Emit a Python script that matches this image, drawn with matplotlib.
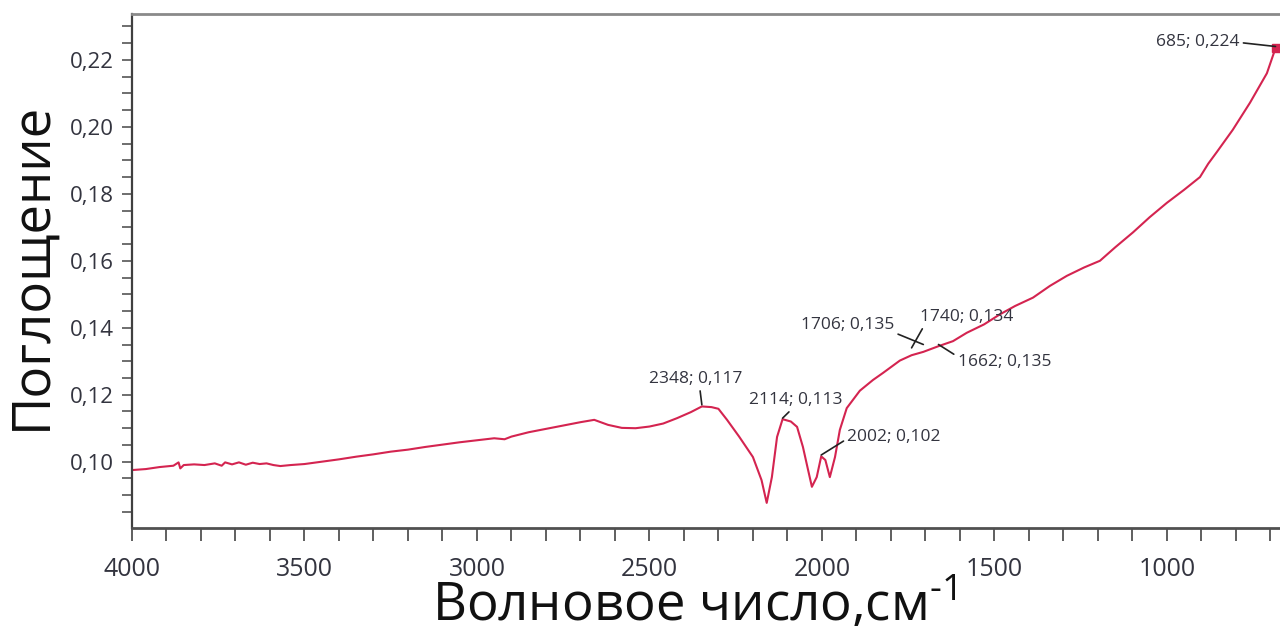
"""
plot.py — ИК-спектр поглощения (4000–685 см-1) с подписями пиков.
"""
import matplotlib
matplotlib.use('Agg')
import matplotlib.pyplot as plt
from matplotlib.ticker import MultipleLocator, FuncFormatter

# ─────────────────────────────────────────────────────────────────────────────
# данные
# ─────────────────────────────────────────────────────────────────────────────

wavenumber = [
    4000, 3960, 3920, 3880, 3865, 3860, 3850, 3820, 3790, 3760,
    3740, 3730, 3710, 3690, 3670, 3650, 3630, 3610, 3590, 3570,
    3540, 3500, 3450, 3400, 3350, 3300, 3250, 3200, 3150, 3100,
    3050, 3000, 2950, 2920, 2900, 2850, 2800, 2750, 2700, 2660,
    2620, 2580, 2540, 2500, 2460, 2420, 2380, 2348, 2320, 2300,
    2275, 2240, 2200, 2175, 2160, 2145, 2130, 2114, 2090, 2072,
    2055, 2040, 2029, 2015, 2002, 1990, 1977, 1962, 1948, 1928,
    1890, 1852, 1823, 1774, 1740, 1706, 1662, 1620, 1580, 1530,
    1484, 1440, 1388, 1339, 1290, 1240, 1194, 1150, 1098, 1050,
    1000, 950, 904, 880, 855, 809, 759, 710, 685,
]
absorbance = [
    0.0975, 0.0978, 0.0984, 0.0988, 0.0998, 0.0980, 0.0990, 0.0992, 0.0990, 0.0995,
    0.0988, 0.0998, 0.0992, 0.0998, 0.0991, 0.0997, 0.0993, 0.0995, 0.0990, 0.0987,
    0.0990, 0.0993, 0.1000, 0.1007, 0.1015, 0.1022, 0.1030, 0.1036, 0.1044, 0.1051,
    0.1058, 0.1064, 0.1070, 0.1067, 0.1075, 0.1088, 0.1098, 0.1108, 0.1118, 0.1125,
    0.1110, 0.1101, 0.1100, 0.1105, 0.1114, 0.1130, 0.1148, 0.1165, 0.1163, 0.1158,
    0.1125, 0.1075, 0.1014, 0.0945, 0.0877, 0.0954, 0.1074, 0.1127, 0.1120, 0.1104,
    0.1044, 0.0975, 0.0925, 0.0954, 0.1016, 0.1005, 0.0954, 0.1014, 0.1095, 0.1160,
    0.1212, 0.1244, 0.1265, 0.1302, 0.1318, 0.1328, 0.1345, 0.1360, 0.1385, 0.1410,
    0.1440, 0.1465, 0.1490, 0.1525, 0.1555, 0.1580, 0.1600, 0.1640, 0.1685, 0.1730,
    0.1773, 0.1812, 0.1850, 0.1890, 0.1925, 0.1991, 0.2072, 0.2160, 0.2235,
]

# подписанные пики
peak_wn  = [2348, 2114, 2002, 1706, 1740, 1662, 685]
peak_abs = [0.117, 0.113, 0.102, 0.135, 0.134, 0.135, 0.224]

# ─────────────────────────────────────────────────────────────────────────────
# оформление
# ─────────────────────────────────────────────────────────────────────────────

LINE_COLOR = '#d42450'
TEXT_COLOR = '#33343f'
FONT = ['Open Sans', 'DejaVu Sans']

# смещение центра подписи (px) и точка выхода выноски на рамке текста
LABEL_STYLE = [
    dict(off=(-6, 26),  rel=(0.54, 0.0)),
    dict(off=(13, 18),  rel=(0.47, 0.0)),
    dict(off=(73, 18),  rel=(0.0, 0.4)),
    dict(off=(-76, 20), rel=(1.0, 0.0)),
    dict(off=(55, 31),  rel=(0.05, 0.0)),
    dict(off=(66, -17), rel=(0.0, 0.8)),
    dict(off=(-78, 4),  rel=(1.0, 0.5)),
]


def _comma(v, pos=None):
    return f'{v:.2f}'.replace('.', ',')


def plot_spectrum(out='out.png'):
    plt.rcParams['font.family'] = FONT
    plt.rcParams['mathtext.fontset'] = 'custom'
    plt.rcParams['mathtext.rm'] = 'Open Sans'
    plt.rcParams['mathtext.default'] = 'rm'

    fig = plt.figure(figsize=(12.8, 6.26), dpi=100)
    ax = fig.add_axes([132 / 1280, 1 - 528 / 626, 1 - 132 / 1280, (528 - 14) / 626])

    ax.plot(wavenumber, absorbance, color=LINE_COLOR, lw=1.5)
    ax.plot([peak_wn[-1]], [absorbance[-1]], marker='s', ms=6,
            color=LINE_COLOR, clip_on=False)

    for w, a, st in zip(peak_wn, peak_abs, LABEL_STYLE):
        label = f'{w}; {a:.3f}'.replace('.', ',')
        ax.annotate(label, xy=(w, a), xytext=st['off'], textcoords='offset pixels',
                    ha='center', va='center', fontsize=12.5, color=TEXT_COLOR,
                    arrowprops=dict(arrowstyle='-', color='#222222', lw=1.2,
                                    relpos=st['rel'], shrinkA=1, shrinkB=0))

    ax.set_xlim(4000, 672)
    ax.set_ylim(0.0802, 0.2337)

    ax.xaxis.set_major_locator(MultipleLocator(500))
    ax.xaxis.set_minor_locator(MultipleLocator(100))
    ax.yaxis.set_major_locator(MultipleLocator(0.02))
    ax.yaxis.set_minor_locator(MultipleLocator(0.005))
    ax.yaxis.set_major_formatter(FuncFormatter(_comma))

    ax.tick_params(axis='x', which='both', direction='out', length=9, width=1.2,
                   color='#444444', labelsize=18, labelcolor=TEXT_COLOR, pad=12)
    ax.tick_params(axis='y', which='both', direction='out', length=7, width=1.2,
                   color='#555555', labelsize=16, labelcolor=TEXT_COLOR, pad=6)

    ax.spines['right'].set_visible(False)
    ax.spines['top'].set_color('#8a8a8a')
    ax.spines['top'].set_linewidth(2)
    ax.spines['bottom'].set_color('#505050')
    ax.spines['bottom'].set_linewidth(2)
    ax.spines['left'].set_color('#404040')
    ax.spines['left'].set_linewidth(1.6)

    xl = ax.set_xlabel(r'Волновое число,см$^{\text{-1}}$', fontsize=38,
                       color='#111111', labelpad=-4)
    xl.set_x(0.49)
    ax.set_ylabel('Поглощение', fontsize=38, color='#111111')
    ax.yaxis.set_label_coords(-0.064, 0.51)

    fig.savefig(out, dpi=100)
    plt.close(fig)


if __name__ == '__main__':
    plot_spectrum()
